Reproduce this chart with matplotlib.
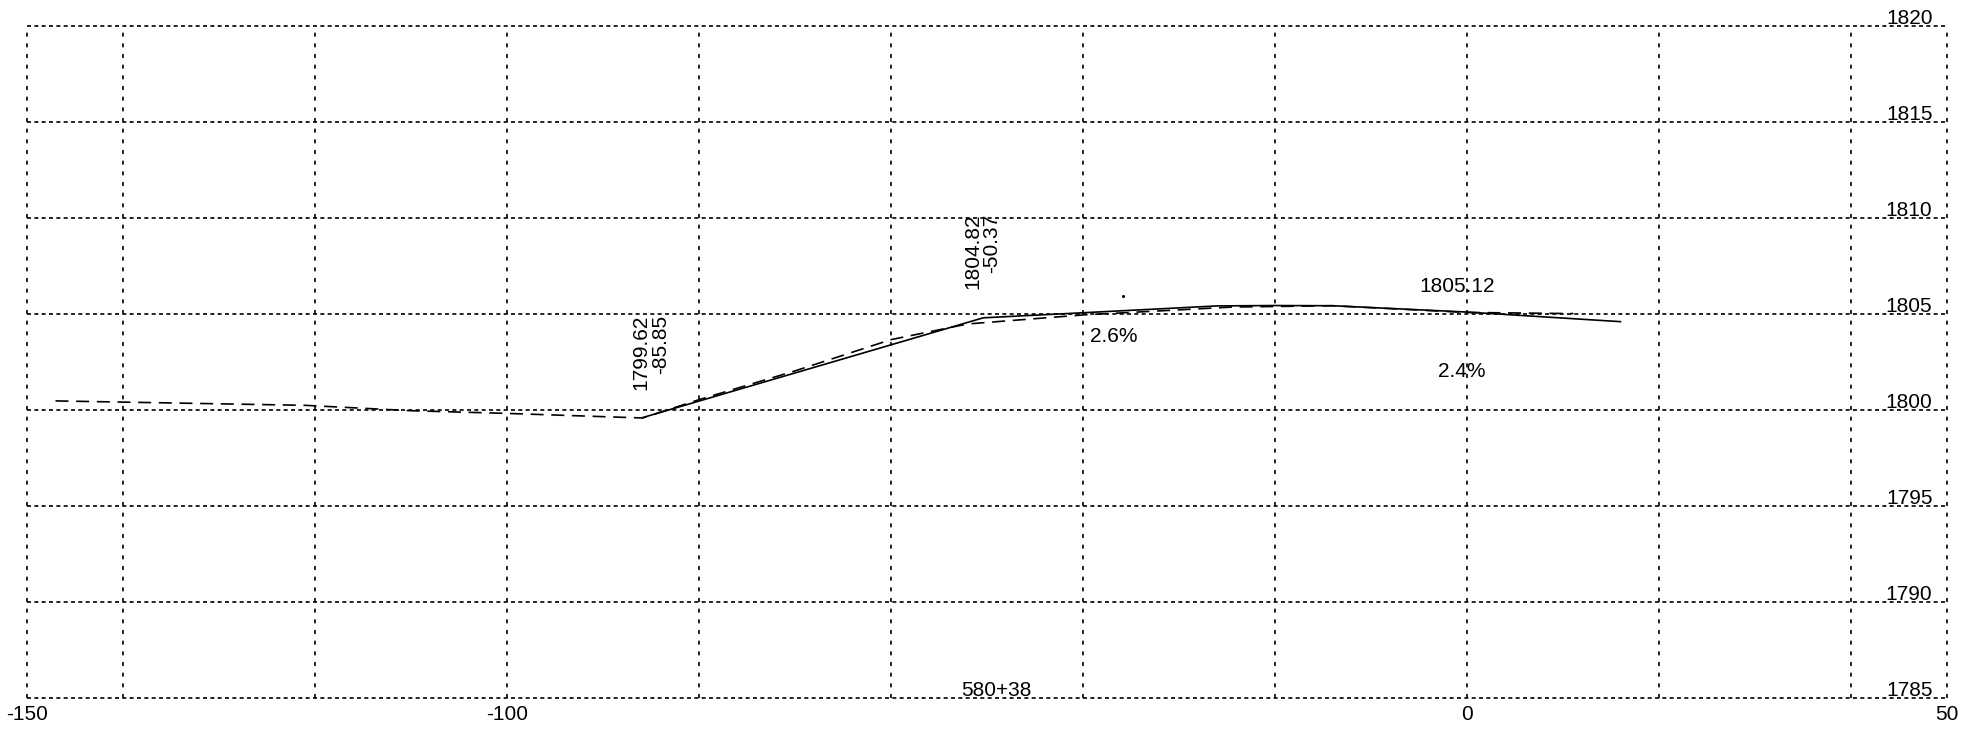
import numpy as np
import matplotlib.pyplot as plt

plt.rcParams['font.family'] = ['Liberation Sans', 'DejaVu Sans']

# design line (solid) and ground line (dashed), station offset vs elevation
design_x = [-85.85, -50.37, -26.0, -20.0, -14.0, 0.0, 16.0]
design_y = [1799.62, 1804.82, 1805.44, 1805.46, 1805.45, 1805.12, 1804.62]

ground_x = [-147.0, -121.0, -110.0, -100.0, -85.85, -80.0, -70.0, -60.0, -52.0,
            -40.0, -24.5, -14.0, 0.0, 11.1]
ground_y = [1800.49, 1800.26, 1799.98, 1799.84, 1799.60, 1800.55, 1802.05, 1803.68,
            1804.50, 1804.97, 1805.38, 1805.45, 1805.10, 1805.04]

elev_levels = [1785, 1790, 1795, 1800, 1805, 1810, 1815, 1820]
x_ticks = [-150, -100, 0, 50]

fs = 15

fig = plt.figure(figsize=(19.8, 7.32), dpi=100)
ax = fig.add_axes([0.01348, 0.0462, 0.9698, 0.9176])
ax.set_xlim(-150, 50)
ax.set_ylim(1785, 1820)

# grid (dashed), including the frame
for gx in [-150] + list(np.arange(-140, 41, 20)) + [50]:
    ax.axvline(gx, color='black', lw=1.2, ls=(0, (2.4, 4.0)), clip_on=False, zorder=1)
for gy in elev_levels:
    ax.axhline(gy, color='black', lw=1.2, ls=(0, (2.4, 2.0)), clip_on=False, zorder=1)

for s in ax.spines.values():
    s.set_visible(False)

ax.plot(ground_x, ground_y, color='black', lw=1.2, ls=(0, (7.8, 4.6)), zorder=3)
ax.plot(design_x, design_y, color='black', lw=1.2, zorder=4)
ax.plot([-35.8], [1805.96], marker='o', ms=1.2, color='black', zorder=4)

# elevation labels on the right
for gy in elev_levels:
    ax.text(48.5, gy + 0.12, str(gy), ha='right', va='baseline', fontsize=fs)

ax.set_xticks(x_ticks)
ax.set_xticklabels([str(v) for v in x_ticks])
ax.set_yticks([])
ax.tick_params(axis='x', length=0, pad=5, labelsize=fs)

# annotations
ax.text(-85.0, 1801.07, '1799.62\n-85.85', rotation=90, ha='center', va='bottom',
        multialignment='right', fontsize=fs, linespacing=1.0)
ax.text(-50.5, 1806.3, '1804.82\n-50.37', rotation=90, ha='center', va='bottom',
        multialignment='right', fontsize=fs, linespacing=1.0)
ax.text(-39.2, 1803.57, '2.6%', ha='left', va='baseline', fontsize=fs)
ax.text(-0.5, 1801.75, '2.4%', ha='center', va='baseline', fontsize=fs)
ax.text(-1.05, 1806.18, '1805.12', ha='center', va='baseline', fontsize=fs)
ax.text(-49.0, 1785.12, '580+38', ha='center', va='baseline', fontsize=fs)

fig.savefig('out.png', dpi=100)
